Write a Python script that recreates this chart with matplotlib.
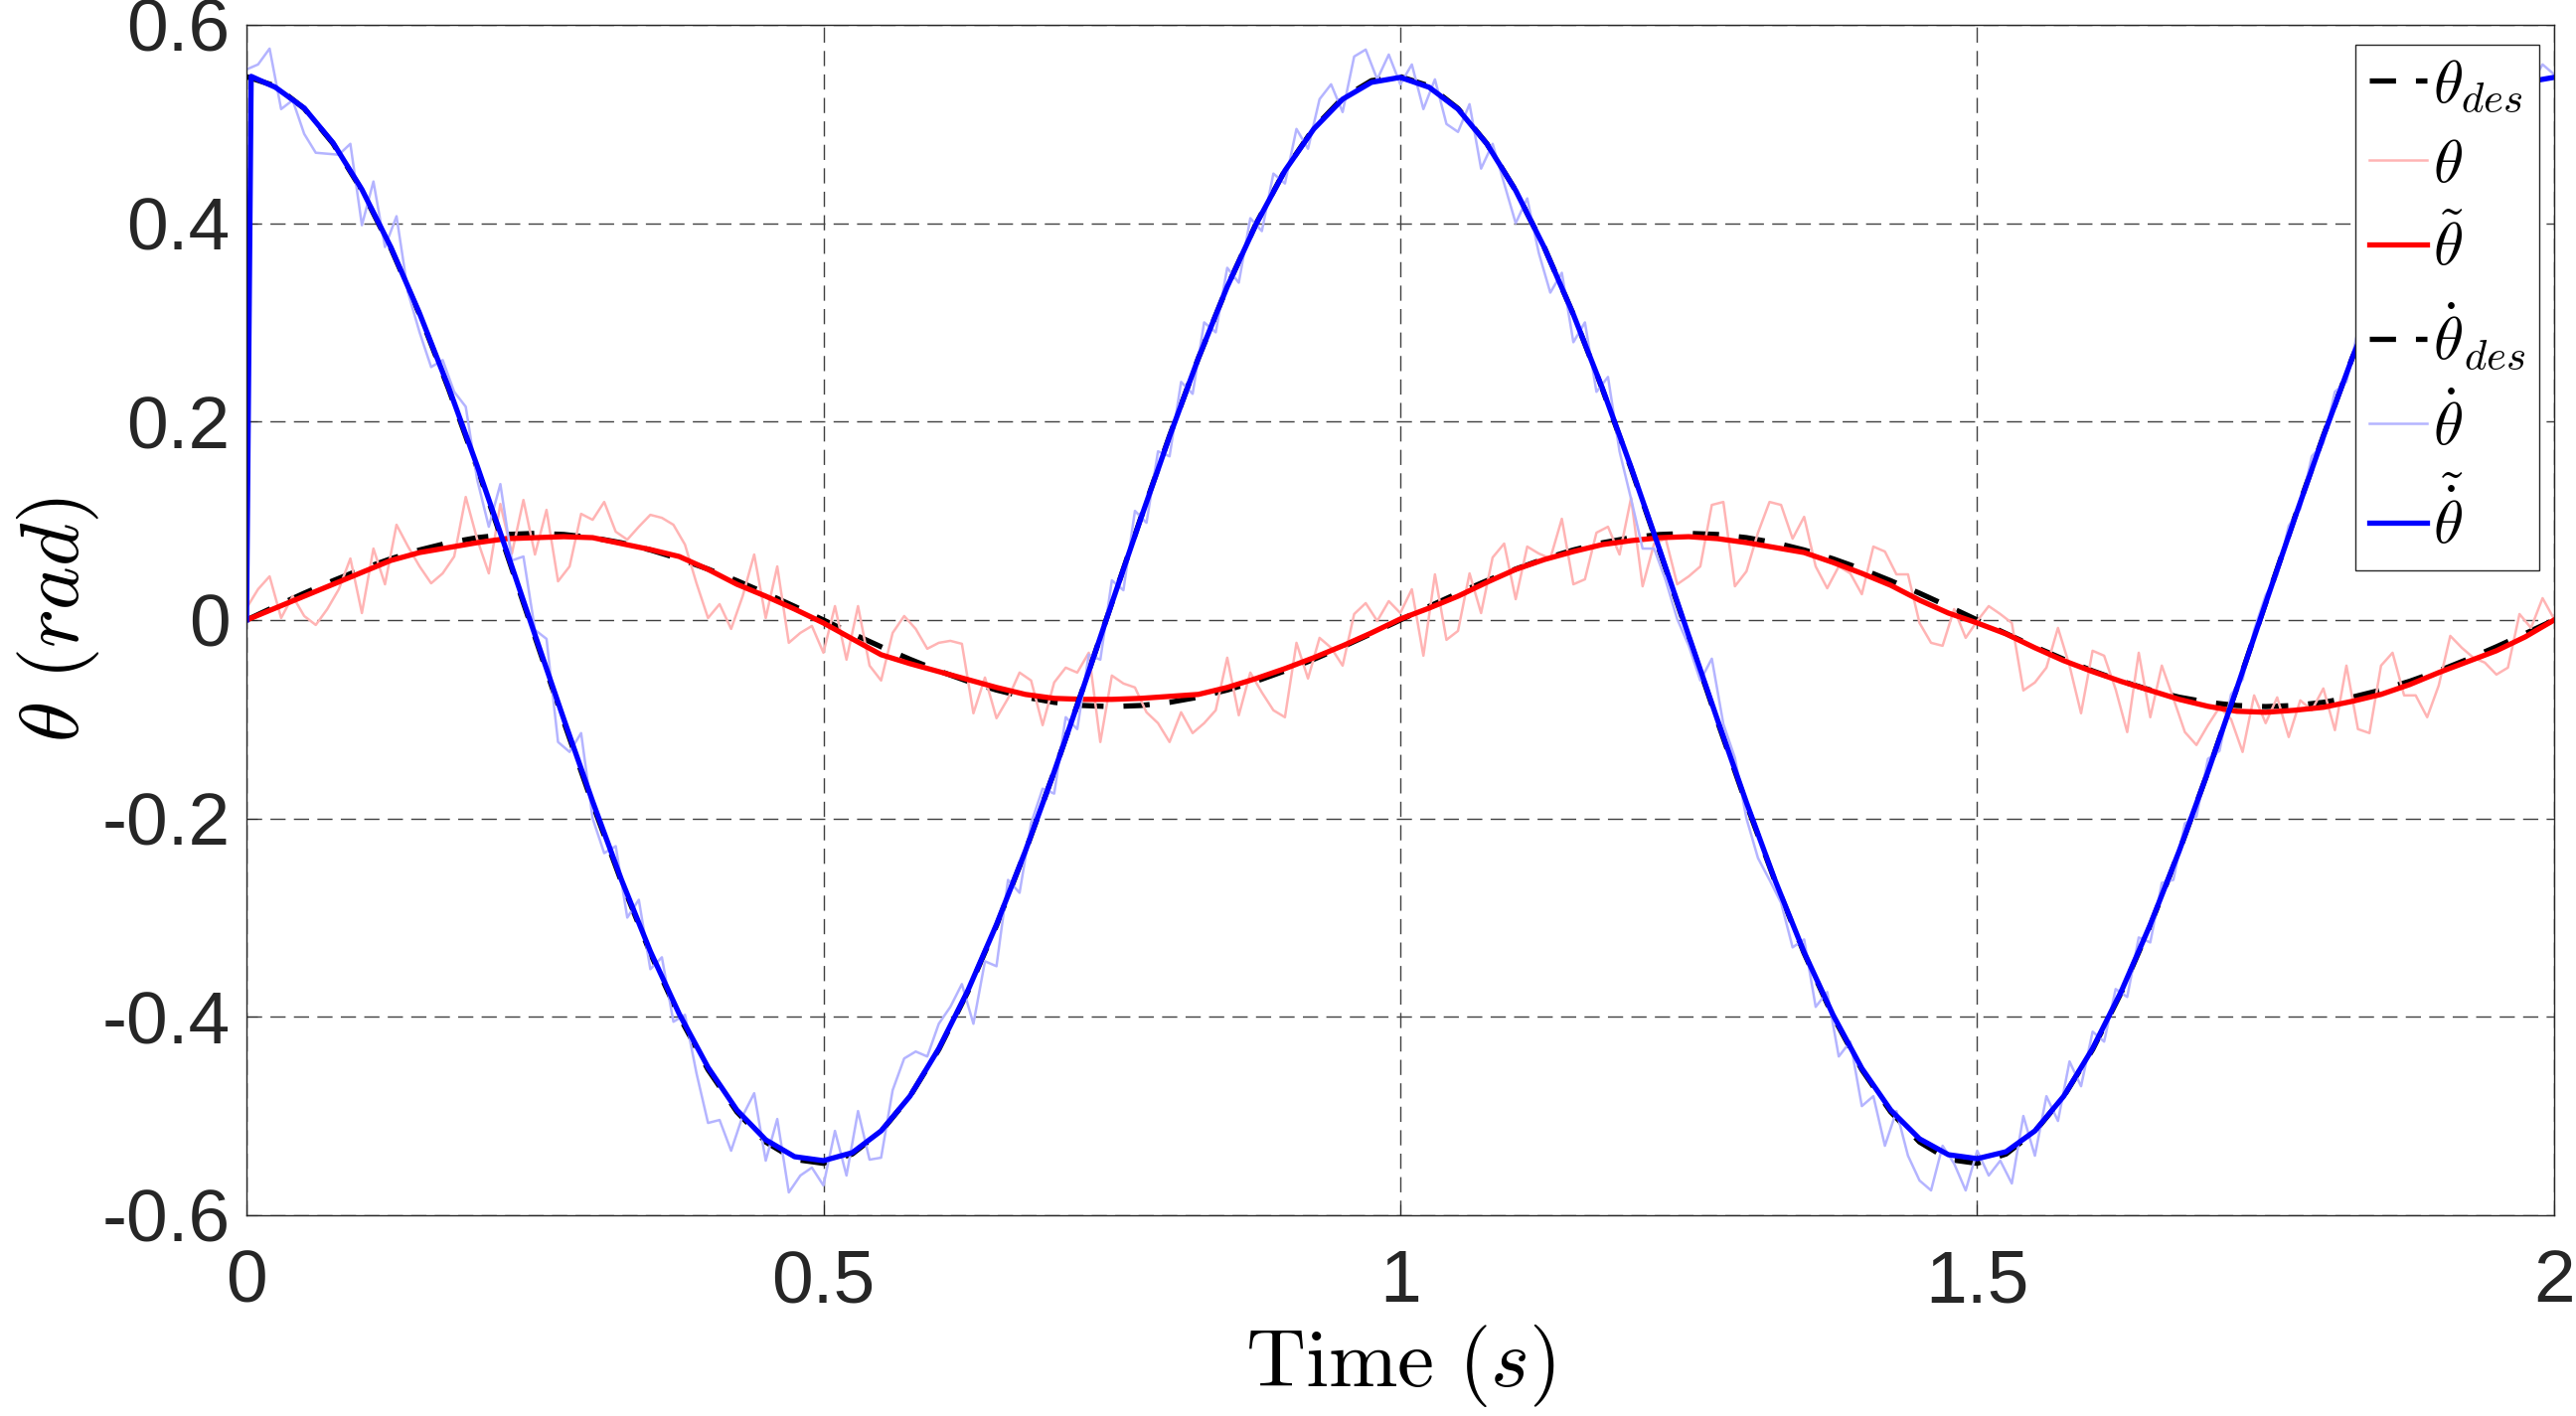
import matplotlib
matplotlib.use("Agg")
import matplotlib.pyplot as plt
import numpy as np

# ---- data ----
# time grids: noisy signals every 10 ms, smooth signals every 25 ms
t_fine = np.round(np.arange(201) * 0.01, 3)
t_coarse = np.round(np.arange(81) * 0.025, 3)
t_filt = np.concatenate([[0.0, 0.004], t_coarse[1:]])

theta_des = [
    0.0000, 0.0137, 0.0270, 0.0396, 0.0513, 0.0617, 0.0706, 0.0778, 0.0830, 0.0862,
    0.0873, 0.0862, 0.0830, 0.0778, 0.0706, 0.0617, 0.0513, 0.0396, 0.0270, 0.0137,
    0.0000, -0.0137, -0.0270, -0.0396, -0.0513, -0.0617, -0.0706, -0.0778, -0.0830, -0.0862,
    -0.0873, -0.0862, -0.0830, -0.0778, -0.0706, -0.0617, -0.0513, -0.0396, -0.0270, -0.0137,
    0.0000, 0.0137, 0.0270, 0.0396, 0.0513, 0.0617, 0.0706, 0.0778, 0.0830, 0.0862,
    0.0873, 0.0862, 0.0830, 0.0778, 0.0706, 0.0617, 0.0513, 0.0396, 0.0270, 0.0137,
    0.0000, -0.0137, -0.0270, -0.0396, -0.0513, -0.0617, -0.0706, -0.0778, -0.0830, -0.0862,
    -0.0873, -0.0862, -0.0830, -0.0778, -0.0706, -0.0617, -0.0513, -0.0396, -0.0270, -0.0137,
    0.0000,
]

theta_meas = [
    0.012, 0.031, 0.044, 0.002, 0.024, 0.004, -0.005, 0.011, 0.031, 0.062,
    0.007, 0.072, 0.036, 0.096, 0.074, 0.054, 0.037, 0.047, 0.064, 0.124,
    0.081, 0.047, 0.117, 0.067, 0.121, 0.066, 0.111, 0.039, 0.054, 0.107,
    0.101, 0.119, 0.089, 0.081, 0.094, 0.106, 0.103, 0.096, 0.076, 0.037,
    0.002, 0.016, -0.009, 0.024, 0.066, 0.002, 0.054, -0.023, -0.013, -0.006,
    -0.033, 0.014, -0.040, 0.014, -0.046, -0.061, -0.013, 0.004, -0.009, -0.029,
    -0.023, -0.021, -0.024, -0.094, -0.058, -0.099, -0.079, -0.053, -0.061, -0.106,
    -0.063, -0.048, -0.053, -0.033, -0.123, -0.056, -0.064, -0.068, -0.093, -0.104,
    -0.123, -0.093, -0.114, -0.104, -0.091, -0.038, -0.096, -0.053, -0.073, -0.091,
    -0.098, -0.023, -0.059, -0.018, -0.028, -0.046, 0.006, 0.017, -0.001, 0.019,
    0.007, 0.031, -0.036, 0.046, -0.020, -0.011, 0.047, 0.007, 0.063, 0.077,
    0.021, 0.074, 0.067, 0.062, 0.102, 0.036, 0.041, 0.088, 0.094, 0.066,
    0.123, 0.034, 0.077, 0.082, 0.036, 0.044, 0.054, 0.116, 0.119, 0.034,
    0.049, 0.088, 0.119, 0.116, 0.082, 0.104, 0.054, 0.032, 0.054, 0.047,
    0.026, 0.074, 0.069, 0.046, 0.046, -0.003, -0.023, -0.026, 0.011, -0.018,
    -0.001, 0.014, 0.006, -0.003, -0.071, -0.063, -0.048, -0.008, -0.046, -0.094,
    -0.031, -0.036, -0.070, -0.113, -0.033, -0.098, -0.046, -0.079, -0.113, -0.126,
    -0.106, -0.088, -0.100, -0.133, -0.076, -0.104, -0.078, -0.118, -0.081, -0.091,
    -0.069, -0.111, -0.046, -0.110, -0.114, -0.046, -0.033, -0.076, -0.076, -0.098,
    -0.066, -0.016, -0.028, -0.038, -0.043, -0.055, -0.048, 0.006, -0.008, 0.022,
    0.001,
]

theta_filt = [
    0.000, 0.012, 0.024, 0.036, 0.048, 0.060, 0.068, 0.073, 0.078, 0.082,
    0.083, 0.084, 0.083, 0.077, 0.071, 0.064, 0.051, 0.036, 0.024, 0.011,
    -0.003, -0.019, -0.035, -0.044, -0.052, -0.060, -0.068, -0.075, -0.079, -0.080,
    -0.080, -0.079, -0.077, -0.075, -0.068, -0.059, -0.049, -0.038, -0.026, -0.013,
    0.001, 0.012, 0.024, 0.038, 0.051, 0.061, 0.069, 0.076, 0.080, 0.083,
    0.084, 0.082, 0.078, 0.073, 0.068, 0.058, 0.047, 0.035, 0.020, 0.007,
    -0.003, -0.014, -0.028, -0.041, -0.052, -0.062, -0.071, -0.080, -0.087, -0.092,
    -0.093, -0.091, -0.088, -0.082, -0.075, -0.065, -0.053, -0.042, -0.031, -0.017,
    0.000,
]

thetadot_des = [
    0.5477, 0.5383, 0.5156, 0.4802, 0.4330, 0.3751, 0.3080, 0.2333, 0.1529, 0.0687,
    -0.0172, -0.1027, -0.1856, -0.2640, -0.3359, -0.3995, -0.4533, -0.4958, -0.5262, -0.5437,
    -0.5477, -0.5383, -0.5156, -0.4802, -0.4330, -0.3751, -0.3080, -0.2333, -0.1529, -0.0687,
    0.0172, 0.1027, 0.1856, 0.2640, 0.3359, 0.3995, 0.4533, 0.4958, 0.5262, 0.5437,
    0.5477, 0.5383, 0.5156, 0.4802, 0.4330, 0.3751, 0.3080, 0.2333, 0.1529, 0.0687,
    -0.0172, -0.1027, -0.1856, -0.2640, -0.3359, -0.3995, -0.4533, -0.4958, -0.5262, -0.5437,
    -0.5477, -0.5383, -0.5156, -0.4802, -0.4330, -0.3751, -0.3080, -0.2333, -0.1529, -0.0687,
    0.0172, 0.1027, 0.1856, 0.2640, 0.3359, 0.3995, 0.4533, 0.4958, 0.5262, 0.5437,
    0.5477,
]

thetadot_meas = [
    0.555, 0.560, 0.576, 0.515, 0.524, 0.490, 0.471, 0.470, 0.469, 0.480,
    0.398, 0.442, 0.376, 0.407, 0.330, 0.290, 0.255, 0.262, 0.230, 0.215,
    0.141, 0.094, 0.137, 0.060, 0.064, -0.010, -0.019, -0.123, -0.133, -0.114,
    -0.200, -0.235, -0.228, -0.300, -0.282, -0.352, -0.340, -0.405, -0.398, -0.457,
    -0.507, -0.504, -0.535, -0.500, -0.477, -0.545, -0.503, -0.577, -0.560, -0.552,
    -0.570, -0.515, -0.560, -0.495, -0.544, -0.542, -0.474, -0.442, -0.435, -0.440,
    -0.407, -0.390, -0.367, -0.407, -0.344, -0.349, -0.262, -0.275, -0.205, -0.170,
    -0.175, -0.098, -0.110, -0.035, -0.040, 0.040, 0.030, 0.110, 0.098, 0.170,
    0.165, 0.240, 0.228, 0.300, 0.290, 0.355, 0.340, 0.405, 0.392, 0.450,
    0.440, 0.495, 0.475, 0.525, 0.540, 0.512, 0.568, 0.575, 0.545, 0.570,
    0.540, 0.560, 0.515, 0.545, 0.500, 0.492, 0.520, 0.455, 0.480, 0.440,
    0.400, 0.425, 0.370, 0.330, 0.350, 0.280, 0.300, 0.230, 0.245, 0.170,
    0.122, 0.072, 0.072, 0.040, 0.001, -0.026, -0.061, -0.039, -0.105, -0.139,
    -0.200, -0.240, -0.262, -0.285, -0.330, -0.322, -0.390, -0.375, -0.440, -0.425,
    -0.490, -0.480, -0.530, -0.495, -0.540, -0.565, -0.575, -0.530, -0.548, -0.575,
    -0.535, -0.560, -0.545, -0.568, -0.500, -0.540, -0.480, -0.505, -0.445, -0.470,
    -0.415, -0.425, -0.372, -0.380, -0.320, -0.325, -0.265, -0.262, -0.205, -0.198,
    -0.140, -0.132, -0.075, -0.060, -0.010, 0.025, 0.045, 0.095, 0.112, 0.165,
    0.178, 0.230, 0.240, 0.292, 0.300, 0.345, 0.352, 0.398, 0.405, 0.445,
    0.445, 0.485, 0.478, 0.515, 0.505, 0.540, 0.528, 0.552, 0.540, 0.560,
    0.550,
]

thetadot_filt = [
    0.000, 0.548,
    0.537, 0.516, 0.481, 0.434, 0.376, 0.309, 0.235, 0.155, 0.071, -0.015,
    -0.100, -0.183, -0.262, -0.334, -0.397, -0.451, -0.494, -0.524, -0.541, -0.545,
    -0.537, -0.515, -0.480, -0.432, -0.374, -0.307, -0.233, -0.153, -0.069, 0.017,
    0.102, 0.185, 0.264, 0.336, 0.399, 0.453, 0.495, 0.525, 0.542, 0.547,
    0.537, 0.515, 0.480, 0.433, 0.375, 0.308, 0.234, 0.154, 0.070, -0.016,
    -0.101, -0.184, -0.263, -0.335, -0.398, -0.452, -0.494, -0.523, -0.539, -0.543,
    -0.536, -0.515, -0.480, -0.432, -0.374, -0.307, -0.233, -0.153, -0.069, 0.017,
    0.102, 0.185, 0.264, 0.336, 0.399, 0.453, 0.495, 0.525, 0.542, 0.547,
]

x_ticks = [0, 0.5, 1, 1.5, 2]
x_labels = ["0", "0.5", "1", "1.5", "2"]
y_ticks = [-0.6, -0.4, -0.2, 0, 0.2, 0.4, 0.6]
y_labels = ["-0.6", "-0.4", "-0.2", "0", "0.2", "0.4", "0.6"]

labels = [r"$\theta_{des}$", r"$\theta$", r"$\tilde{\theta}$",
          r"$\dot{\theta}_{des}$", r"$\dot{\theta}$", r"$\tilde{\dot{\theta}}$"]

# ---- style ----
plt.rcParams["font.family"] = ["Liberation Sans", "DejaVu Sans"]
plt.rcParams["mathtext.fontset"] = "cm"
plt.rcParams["axes.unicode_minus"] = False

fig = plt.figure(figsize=(25.92, 14.25), dpi=100)
ax = fig.add_axes([0.0957, 0.1418, 0.8958, 0.8407])

dash = (5.0, 3.8)
ax.plot(t_coarse, theta_des, color="black", lw=3.8, dashes=dash, label=labels[0])
ax.plot(t_fine, theta_meas, color="#ffb4b4", lw=1.8, label=labels[1])
ax.plot(t_coarse, theta_filt, color="#ff0000", lw=3.8, label=labels[2])
ax.plot(t_coarse, thetadot_des, color="black", lw=3.8, dashes=dash, label=labels[3])
ax.plot(t_fine, thetadot_meas, color="#b4b4ff", lw=1.8, label=labels[4])
ax.plot(t_filt, thetadot_filt, color="#0000ff", lw=3.8, label=labels[5])

ax.set_xlim(0, 2)
ax.set_ylim(-0.6, 0.6)
ax.set_xticks(x_ticks)
ax.set_xticklabels(x_labels)
ax.set_yticks(y_ticks)
ax.set_yticklabels(y_labels)
ax.tick_params(axis="both", direction="in", length=8, width=0.8,
               labelsize=54, colors="#262626")
ax.tick_params(axis="x", pad=24)
ax.tick_params(axis="y", pad=12)

ax.grid(True, color="#404040", lw=1.0, linestyle=(0, (11, 6)))
ax.set_axisbelow(True)
for sp in ax.spines.values():
    sp.set_color("#262626")
    sp.set_linewidth(1.0)

ax.set_xlabel(r"$\mathrm{Time}\ (s)$", fontsize=60, labelpad=4)
ax.set_ylabel(r"$\theta\ (rad)$", fontsize=60, labelpad=0)

leg = ax.legend(loc="upper right", bbox_to_anchor=(1 - 15 / 2322, 1 - 20 / 1198),
                borderaxespad=0, fontsize=44, handlelength=0.95, handletextpad=0.1,
                borderpad=0.22, labelspacing=0.38, fancybox=False, framealpha=1)
leg.get_frame().set_edgecolor("#262626")
leg.get_frame().set_linewidth(1.0)

fig.savefig("out.png", dpi=100, facecolor="white")
